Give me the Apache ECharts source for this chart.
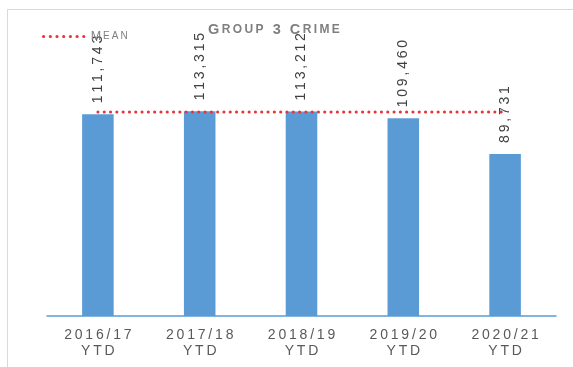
<!DOCTYPE html>
<html>
<head>
<meta charset="utf-8">
<script src="https://cdn.jsdelivr.net/npm/echarts@6/dist/echarts.min.js"></script>
<style>
  html, body { margin: 0; padding: 0; background: #ffffff; }
  #chart { width: 573px; height: 367px; }
</style>
</head>
<body>
<div id="chart"></div>
<script>
// Group 3 crime, year-to-date totals
const categories = ['2016/17\nYTD', '2017/18\nYTD', '2018/19\nYTD', '2019/20\nYTD', '2020/21\nYTD'];
const crimeCounts = [111743, 113315, 113212, 109460, 89731];
const meanValues = [112900, 112900, 112900, 112900, 112900];

const THIN = '\u2009';
const NBSP = '\u00a0';
// spread characters apart to mimic tracked lettering
function spaced(s) {
  return s.split('\n').map(line => line.split('').join(THIN)).join('\n');
}
function fmtNum(v) {
  return v.toLocaleString('en-US');
}
// legend key: a row of seven round dots
function dotRowPath(n, r, step) {
  let d = '';
  for (let i = 0; i < n; i++) {
    const cx = r + i * step;
    d += 'M' + (cx - r) + ',' + r + 'a' + r + ',' + r + ' 0 1,0 ' + (2 * r) + ',0' +
         'a' + r + ',' + r + ' 0 1,0 ' + (-2 * r) + ',0z';
  }
  return 'path://' + d;
}

const chart = echarts.init(document.getElementById('chart'));
chart.setOption({
  backgroundColor: '#ffffff',
  animation: false,
  textStyle: { fontFamily: 'Liberation Sans, Arial, sans-serif' },
  graphic: [{
    type: 'rect',
    silent: true,
    shape: { x: 7.5, y: 9.5, width: 620, height: 420 },
    style: { fill: 'none', stroke: '#d9d9d9', lineWidth: 1 },
    z: -10
  }],
  title: {
    text: '{b|G}{s|' + THIN + spaced('ROUP') + NBSP + NBSP + THIN + '}{b|3}{s|' + NBSP + NBSP + THIN + '}{b|C}{s|' + THIN + spaced('RIME') + '}',
    left: 208,
    top: 22,
    padding: 0,
    textStyle: {
      rich: {
        b: { fontSize: 14.5, fontWeight: 'bold', color: '#7f7f7f', fontFamily: 'Liberation Sans, Arial, sans-serif' },
        s: { fontSize: 12, fontWeight: 'bold', color: '#7f7f7f', fontFamily: 'Liberation Sans, Arial, sans-serif' }
      }
    }
  },
  legend: {
    data: [{ name: 'Mean', icon: dotRowPath(7, 1.6, 6.7) }],
    left: 42,
    top: 30,
    padding: 0,
    itemWidth: 44,
    itemHeight: 3.2,
    itemGap: 4,
    formatter: () => '{m|M}{e|' + THIN + spaced('EAN') + '}',
    textStyle: {
      rich: {
        m: { fontSize: 12.5, color: '#7f7f7f' },
        e: { fontSize: 10, color: '#7f7f7f' }
      }
    }
  },
  grid: { left: 47, right: 17, top: 9, bottom: 51 },
  xAxis: {
    type: 'category',
    data: categories,
    axisLine: { lineStyle: { color: '#5b9bd5', width: 1.5 } },
    axisTick: { show: false },
    axisLabel: {
      formatter: v => spaced(v),
      fontSize: 14,
      color: '#595959',
      lineHeight: 16,
      margin: 11
    }
  },
  yAxis: {
    type: 'value',
    min: 0,
    max: 170000,
    show: false,
    splitLine: { show: false }
  },
  series: [
    {
      name: 'Group 3 Crime',
      type: 'bar',
      data: crimeCounts,
      barWidth: '31%',
      itemStyle: { color: '#5b9bd5' },
      label: {
        show: true,
        position: 'top',
        rotate: 90,
        align: 'left',
        verticalAlign: 'middle',
        distance: 11,
        fontSize: 14,
        color: '#404040',
        formatter: p => spaced(fmtNum(p.value))
      },
      z: 2
    },
    {
      name: 'Mean',
      type: 'line',
      data: meanValues,
      symbol: 'none',
      lineStyle: { color: '#e8333a', width: 3, type: [0.1, 6.2], cap: 'round' },
      itemStyle: { color: '#e8333a' },
      z: 3
    }
  ]
});
</script>
</body>
</html>
